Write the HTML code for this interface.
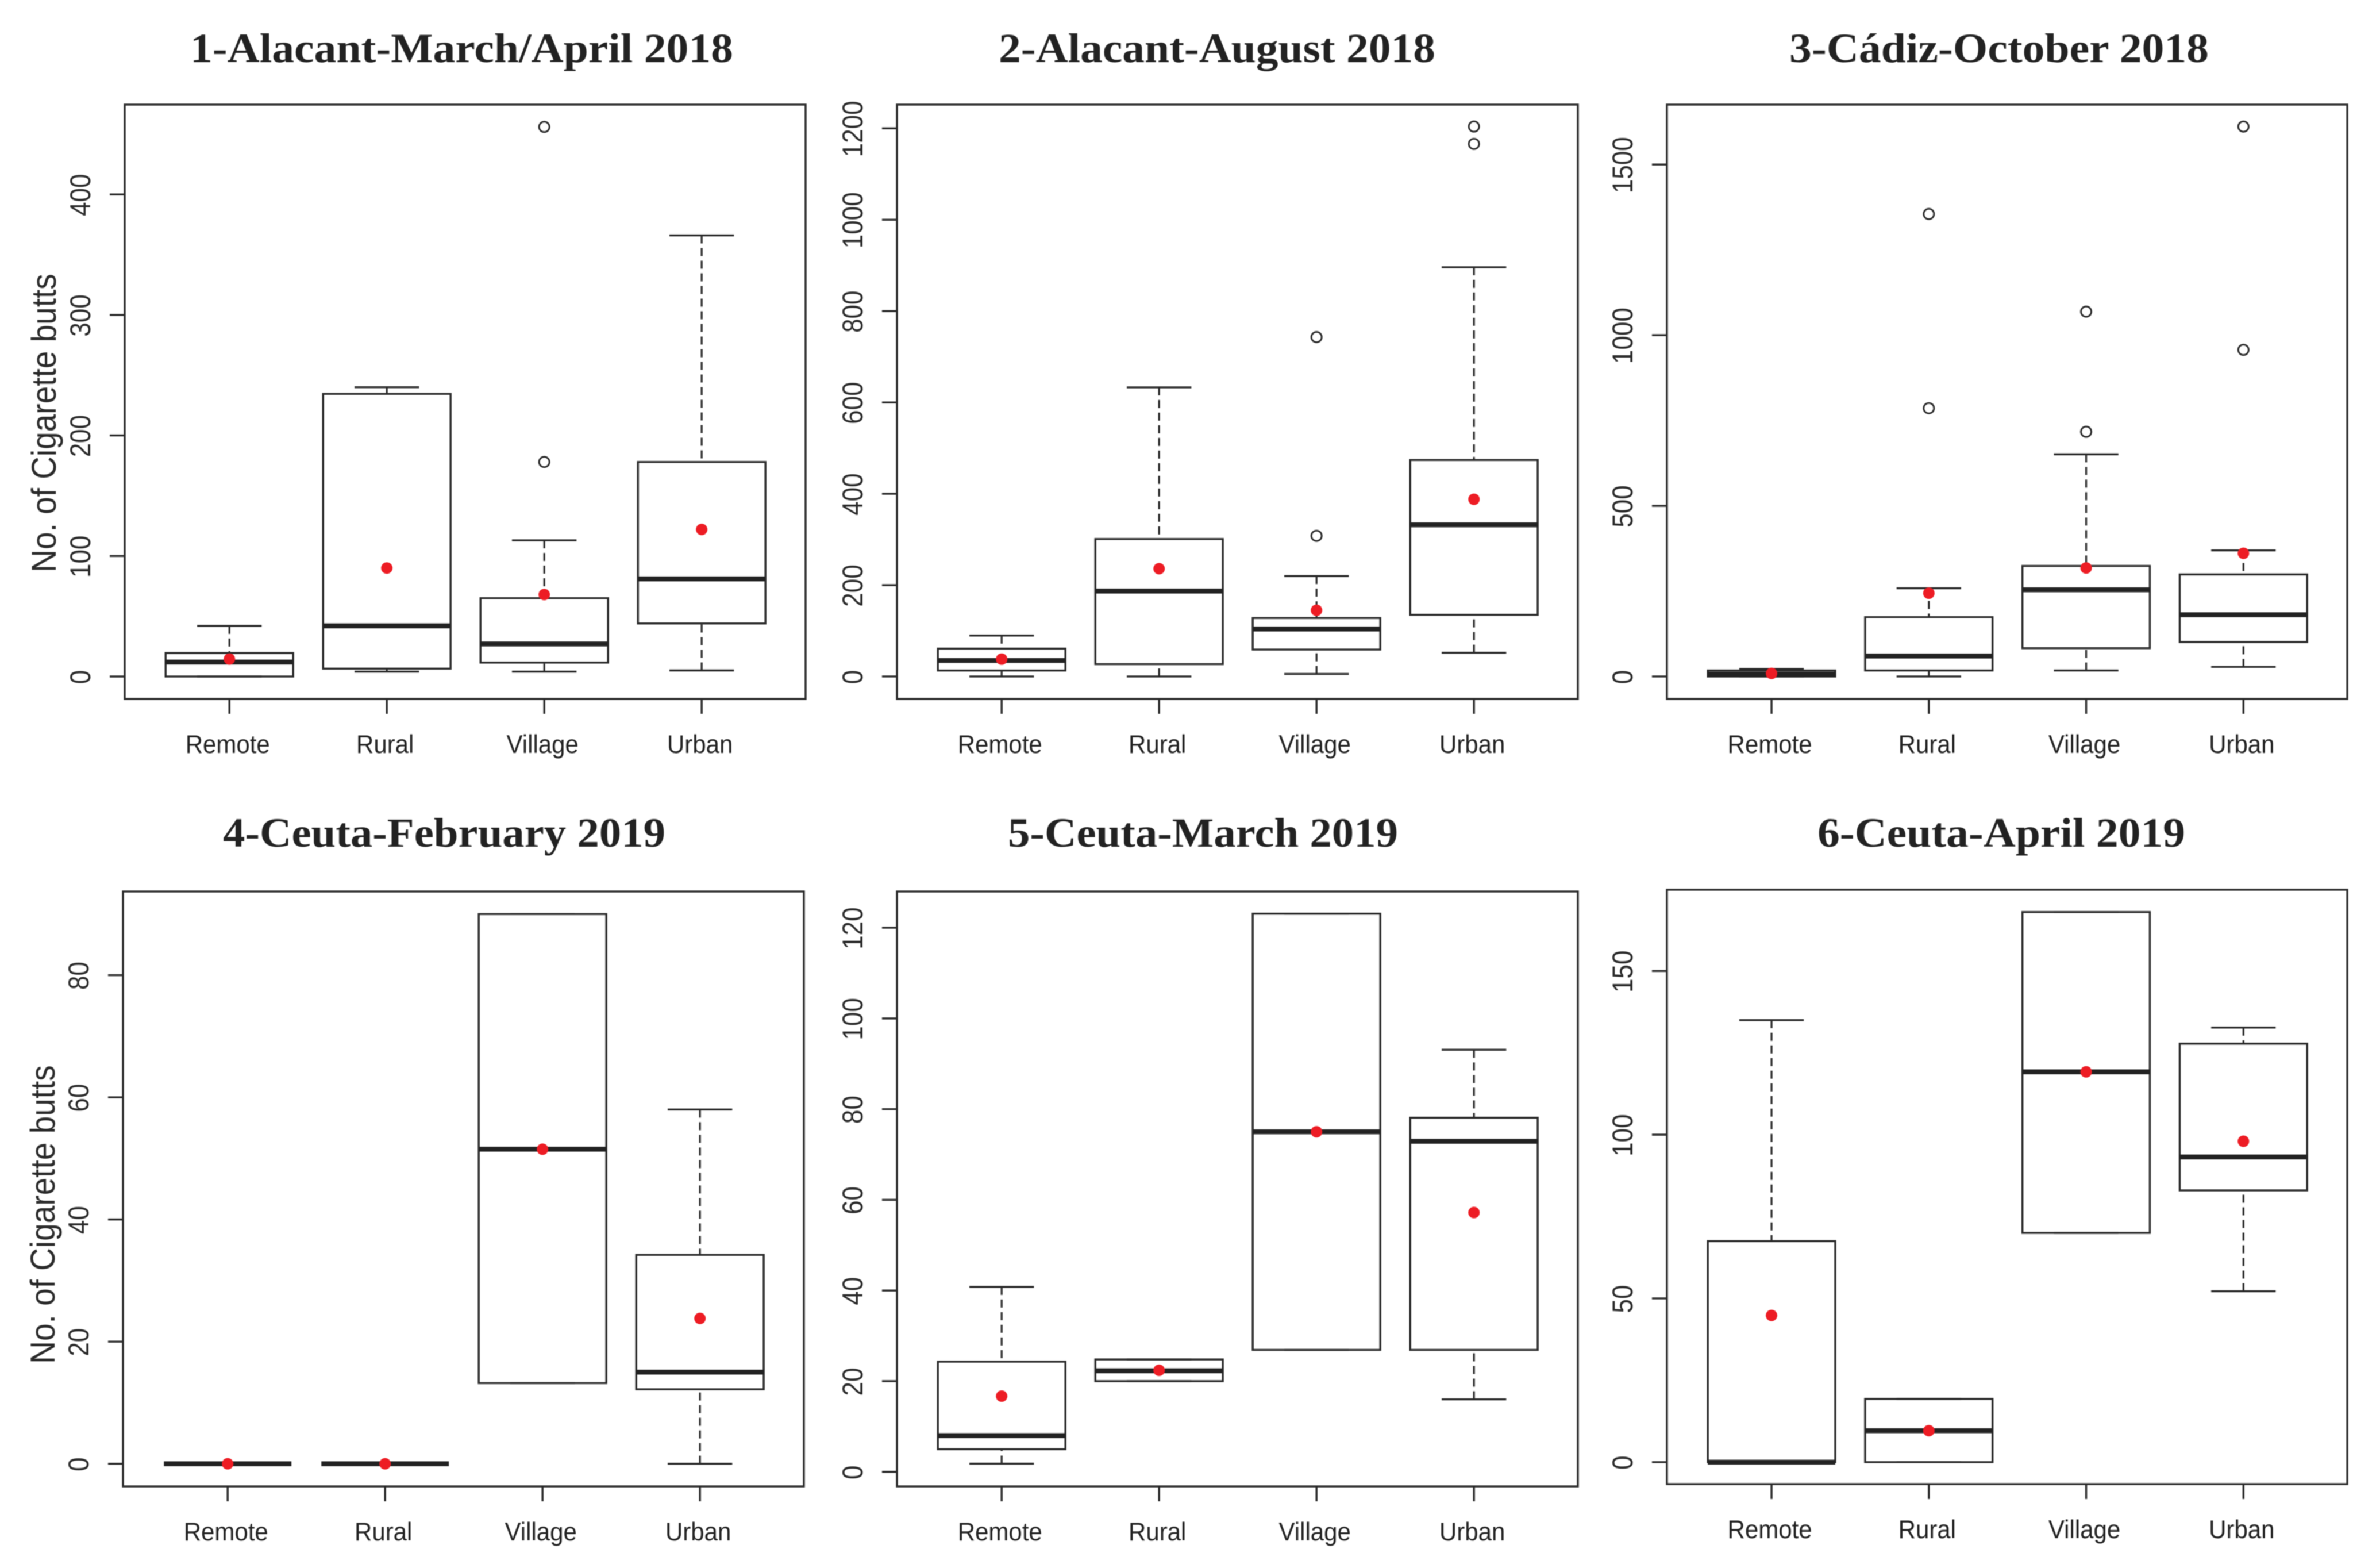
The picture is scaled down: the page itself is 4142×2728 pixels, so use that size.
<!DOCTYPE html>
<html lang="en">
<head>
<meta charset="utf-8">
<title>Cigarette butts boxplots</title>
<style>
html,body{margin:0;padding:0;background:#fff;}
svg{display:block;filter:blur(0.7px);}
.panel-title{font-family:"Liberation Serif",serif;font-weight:bold;font-size:72px;fill:#222;}
.y-title{font-family:"Liberation Sans",sans-serif;font-size:55px;fill:#2a2a2a;}
</style>
</head>
<body>
<svg id="chart" xmlns="http://www.w3.org/2000/svg" width="4142" height="2728" viewBox="0 0 4142 2728">
  <rect width="4142" height="2728" fill="#fff"/>
  <text class="panel-title" x="331" y="108" textLength="945" lengthAdjust="spacingAndGlyphs">1-Alacant-March/April 2018</text>
  <text class="panel-title" x="1738" y="108" textLength="760" lengthAdjust="spacingAndGlyphs">2-Alacant-August 2018</text>
  <text class="panel-title" x="3114" y="108" textLength="730" lengthAdjust="spacingAndGlyphs">3-Cádiz-October 2018</text>
  <text class="panel-title" x="388" y="1473" textLength="770" lengthAdjust="spacingAndGlyphs">4-Ceuta-February 2019</text>
  <text class="panel-title" x="1754" y="1473" textLength="679" lengthAdjust="spacingAndGlyphs">5-Ceuta-March 2019</text>
  <text class="panel-title" x="3163" y="1473" textLength="640" lengthAdjust="spacingAndGlyphs">6-Ceuta-April 2019</text>
  <text class="y-title" text-anchor="middle" transform="translate(97,736) rotate(-90) scale(1,1.1)">No. of Cigarette butts</text>
  <text class="y-title" text-anchor="middle" transform="translate(95,2113) rotate(-90) scale(1,1.1)">No. of Cigarette butts</text>
</svg>
<script>
// ---- data ----
const categories = ['Remote', 'Rural', 'Village', 'Urban'];

const p1Ticks = [0, 100, 200, 300, 400];
const p1High = [42, 240, 113, 366];
const p1Q3 = [19.5, 234.5, 65, 178];
const p1Median = [12, 42, 27, 81];
const p1Q1 = [0, 6.5, 11.5, 44];
const p1Low = [0, 4, 4, 5];
const p1Mean = [14.5, 90, 68, 122];
const p1Outliers = [[], [], [178, 456], []];

const p2Ticks = [0, 200, 400, 600, 800, 1000, 1200];
const p2High = [89.5, 633, 220, 896];
const p2Q3 = [61, 301, 128, 474];
const p2Median = [35, 187, 104, 332];
const p2Q1 = [13, 27, 59, 135];
const p2Low = [0, 0, 5.5, 52];
const p2Mean = [38, 236, 145, 388];
const p2Outliers = [[], [], [308, 743], [1166, 1204]];

const p3Ticks = [0, 500, 1000, 1500];
const p3High = [22, 258.5, 651, 369.5];
const p3Q3 = [17.5, 174, 324, 299];
const p3Median = [7, 60, 254, 181];
const p3Q1 = [0, 17.5, 83, 101];
const p3Low = [0, 0, 17.5, 28];
const p3Mean = [9, 244, 318, 361];
const p3Outliers = [[], [786, 1355], [717, 1069], [957, 1611]];

const p4Ticks = [0, 20, 40, 60, 80];
const p4High = [0, 0, 90, 58];
const p4Q3 = [0, 0, 90, 34.2];
const p4Median = [0, 0, 51.5, 15];
const p4Q1 = [0, 0, 13.2, 12.2];
const p4Low = [0, 0, 13.2, 0];
const p4Mean = [0, 0, 51.5, 23.8];
const p4Outliers = [[], [], [], []];

const p5Ticks = [0, 20, 40, 60, 80, 100, 120];
const p5High = [40.8, 24.8, 123.1, 93.1];
const p5Q3 = [24.3, 24.8, 123.1, 78.1];
const p5Median = [8, 22.3, 75, 72.9];
const p5Q1 = [5, 20, 26.9, 26.9];
const p5Low = [1.8, 20, 26.9, 16];
const p5Mean = [16.7, 22.4, 75, 57.2];
const p5Outliers = [[], [], [], []];

const p6Ticks = [0, 50, 100, 150];
const p6High = [135, 19.3, 168, 132.7];
const p6Q3 = [67.5, 19.3, 168, 127.8];
const p6Median = [0, 9.6, 119.2, 93.2];
const p6Q1 = [0, 0, 70, 83];
const p6Low = [0, 0, 70, 52.2];
const p6Mean = [44.8, 9.6, 119.2, 98];
const p6Outliers = [[], [], [], []];

// y-axis limits: value at frame bottom, value at frame top
const p1YLim = [-18.6, 474.5];
const p2YLim = [-49.1, 1252];
const p3YLim = [-65.7, 1675.4];
const p4YLim = [-3.7, 93.7];
const p5YLim = [-3.2, 128];
const p6YLim = [-6.7, 174.8];

// ---- layout ----
const XLIM = [0.335, 4.66];
const panels = [
  {id: 1, box: [217, 182, 1402, 1216], ylim: p1YLim, ticks: p1Ticks, hi: p1High, q3: p1Q3, med: p1Median, q1: p1Q1, lo: p1Low, mean: p1Mean, out: p1Outliers},
  {id: 2, box: [1561, 182, 2746, 1216], ylim: p2YLim, ticks: p2Ticks, hi: p2High, q3: p2Q3, med: p2Median, q1: p2Q1, lo: p2Low, mean: p2Mean, out: p2Outliers},
  {id: 3, box: [2901, 182, 4085, 1216], ylim: p3YLim, ticks: p3Ticks, hi: p3High, q3: p3Q3, med: p3Median, q1: p3Q1, lo: p3Low, mean: p3Mean, out: p3Outliers},
  {id: 4, box: [214, 1551, 1399, 2586], ylim: p4YLim, ticks: p4Ticks, hi: p4High, q3: p4Q3, med: p4Median, q1: p4Q1, lo: p4Low, mean: p4Mean, out: p4Outliers},
  {id: 5, box: [1561, 1551, 2746, 2586], ylim: p5YLim, ticks: p5Ticks, hi: p5High, q3: p5Q3, med: p5Median, q1: p5Q1, lo: p5Low, mean: p5Mean, out: p5Outliers},
  {id: 6, box: [2901, 1548, 4085, 2582], ylim: p6YLim, ticks: p6Ticks, hi: p6High, q3: p6Q3, med: p6Median, q1: p6Q1, lo: p6Low, mean: p6Mean, out: p6Outliers}
];

const INK = '#2a2a2a';
const NS = 'http://www.w3.org/2000/svg';
const svg = document.getElementById('chart');

function mk(parent, tag, name, attrs, text) {
  const el = document.createElementNS(NS, tag);
  
  
  for (const k in attrs) el.setAttribute(k, attrs[k]);
  if (text !== undefined) el.textContent = text;
  parent.appendChild(el);
  return el;
}
function seg(parent, name, x1, y1, x2, y2, w, extra) {
  return mk(parent, 'line', name, Object.assign({x1: x1, y1: y1, x2: x2, y2: y2, stroke: INK, 'stroke-width': w}, extra || {}));
}

panels.forEach(function (p) {
  const L = p.box[0], T = p.box[1], R = p.box[2], B = p.box[3];
  const xScale = function (pos) { return L + (pos - XLIM[0]) / (XLIM[1] - XLIM[0]) * (R - L); };
  const yScale = function (v) { return B - (v - p.ylim[0]) / (p.ylim[1] - p.ylim[0]) * (B - T); };
  const unit = xScale(2) - xScale(1);
  const boxHalf = unit * 0.405, capHalf = unit * 0.205;
  const g = mk(svg, 'g', 'panel-' + p.id, {});

  // frame
  mk(g, 'rect', 'plot-frame', {x: L, y: T, width: R - L, height: B - T, fill: 'none', stroke: INK, 'stroke-width': 3.4});

  // y axis
  p.ticks.forEach(function (t) {
    const y = yScale(t);
    seg(g, 'y-tick', L - 26, y, L, y, 3.4);
    mk(g, 'text', 'y-tick-label', {
      transform: 'translate(' + (L - 60) + ',' + (y + 1) + ') rotate(-90) scale(1,1.13)',
      'text-anchor': 'middle',
      'font-family': '"Liberation Sans",sans-serif',
      'font-size': 44,
      fill: '#2a2a2a'
    }, String(t));
  });

  // x axis and boxes
  categories.forEach(function (c, i) {
    const x = xScale(i + 1);
    seg(g, 'x-tick', x, B, x, B + 26, 3.4);
    mk(g, 'text', 'x-tick-label', {
      transform: 'translate(' + (x - 3) + ',' + (B + 94) + ') scale(1,1.07)',
      'text-anchor': 'middle',
      'font-family': '"Liberation Sans",sans-serif',
      'font-size': 42,
      fill: '#222'
    }, c);

    const series = mk(g, 'g', 'box-' + c.toLowerCase(), {});
    const yHi = yScale(p.hi[i]), yQ3 = yScale(p.q3[i]), yMed = yScale(p.med[i]), yQ1 = yScale(p.q1[i]), yLo = yScale(p.lo[i]);

    seg(series, 'upper-whisker', x, yHi, x, yQ3, 3.2, {'stroke-dasharray': '14 8'});
    seg(series, 'lower-whisker', x, yLo, x, yQ1, 3.2, {'stroke-dasharray': '14 8'});
    seg(series, 'upper-whisker-cap', x - capHalf, yHi, x + capHalf, yHi, 3.4);
    seg(series, 'lower-whisker-cap', x - capHalf, yLo, x + capHalf, yLo, 3.4);
    mk(series, 'rect', 'interquartile-box', {x: x - boxHalf, y: yQ3, width: boxHalf * 2, height: yQ1 - yQ3, fill: 'none', stroke: INK, 'stroke-width': 3.4});
    seg(series, 'median-line', x - boxHalf, yMed, x + boxHalf, yMed, 8.5, {stroke: '#222'});

    p.out[i].forEach(function (v) {
      mk(series, 'circle', 'outlier-point', {cx: x, cy: yScale(v), r: 9, fill: 'none', stroke: INK, 'stroke-width': 3});
    });
    mk(series, 'circle', 'mean-point', {cx: x, cy: yScale(p.mean[i]), r: 10, fill: '#ed1c24'});
  });
});
</script>
</body>
</html>
